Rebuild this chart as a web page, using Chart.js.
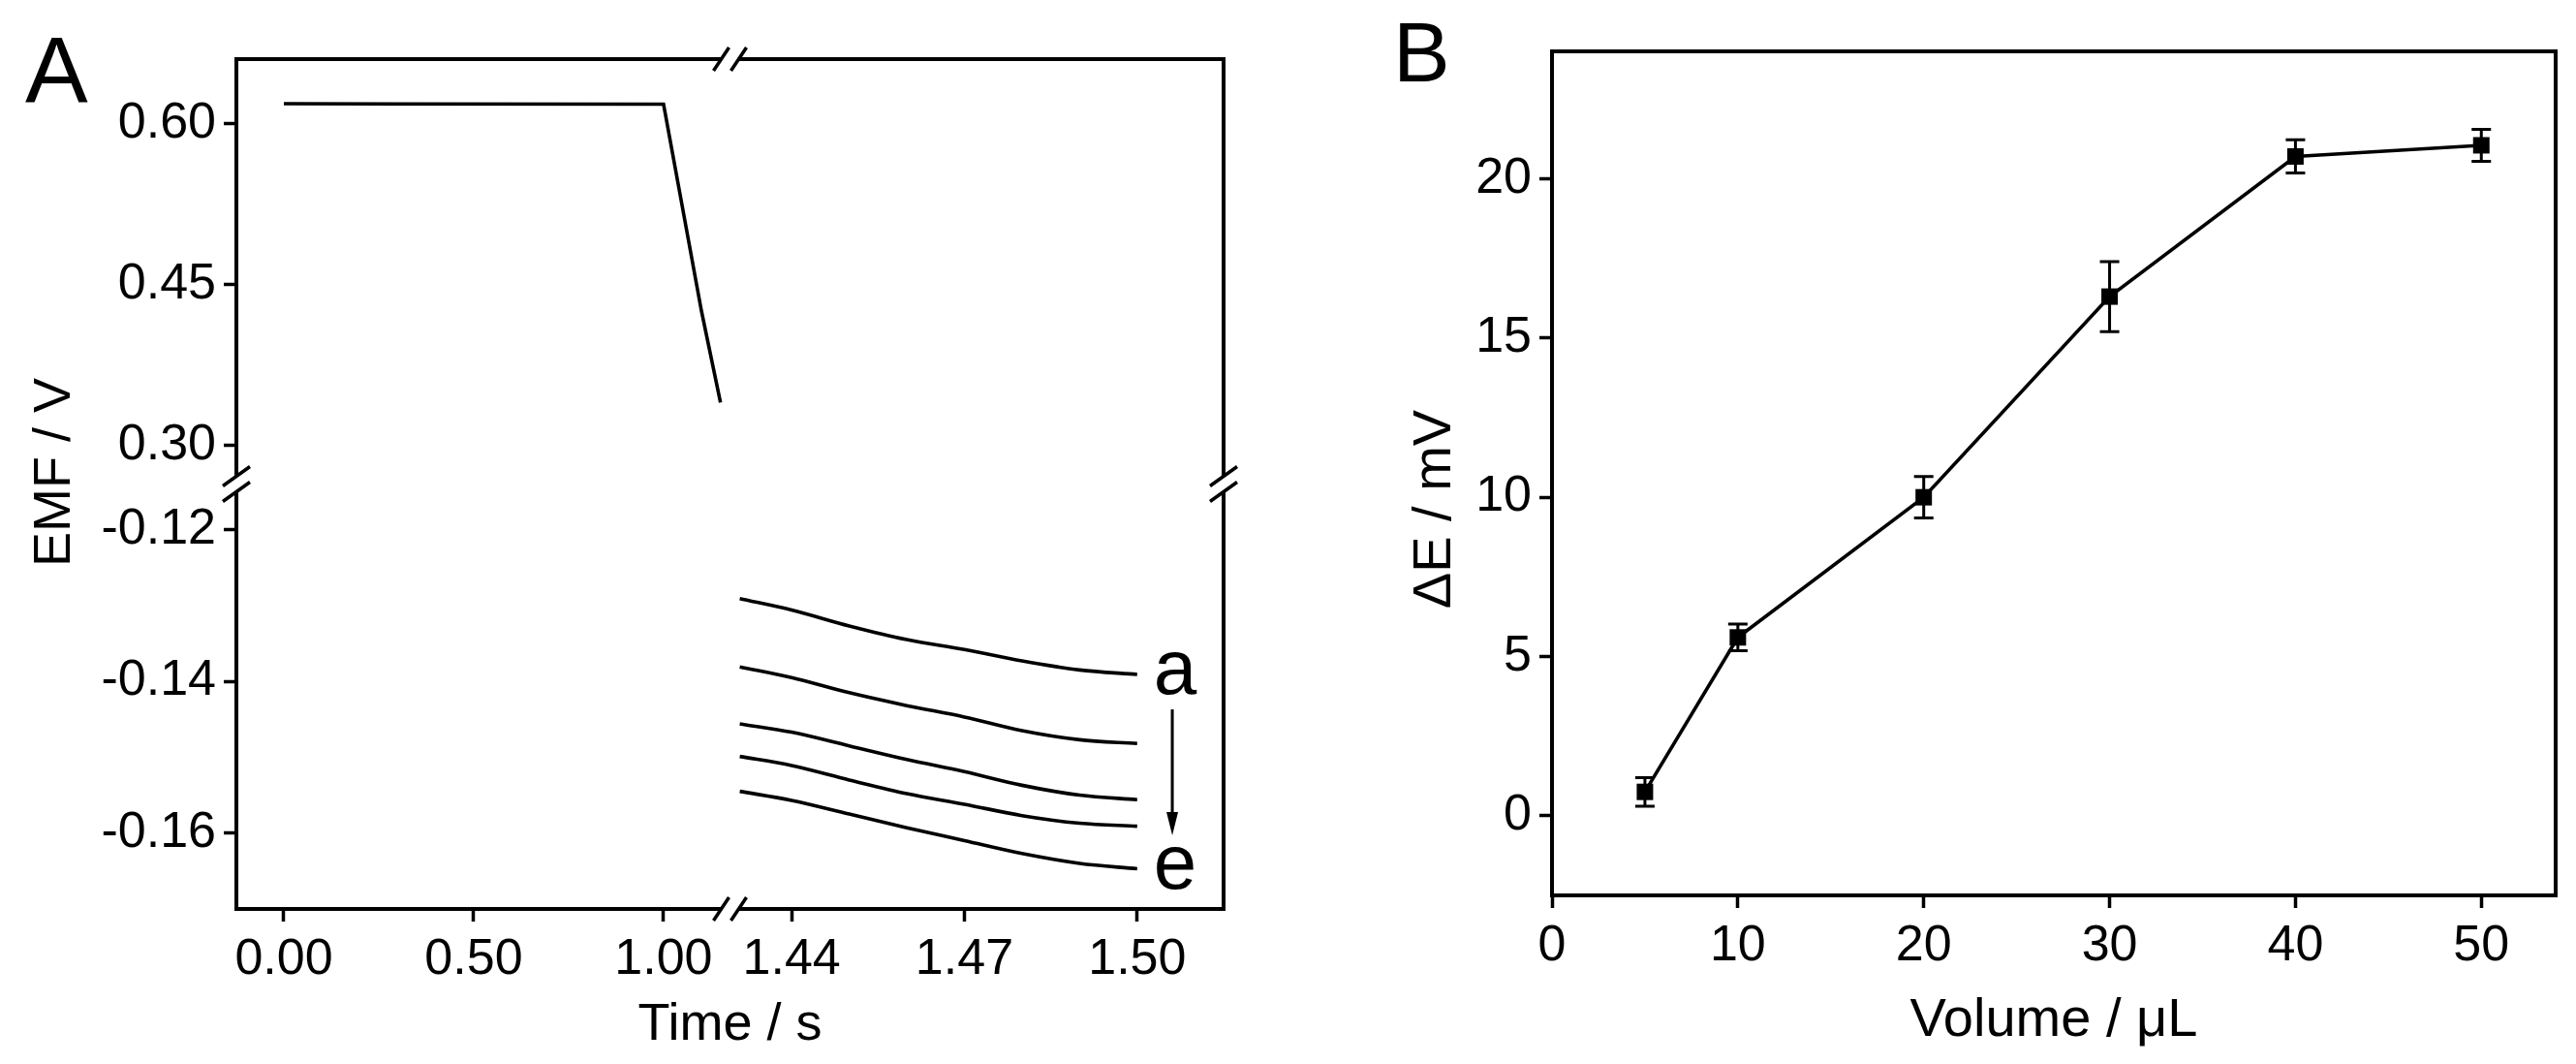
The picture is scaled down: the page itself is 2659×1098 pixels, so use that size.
<!DOCTYPE html>
<html>
<head>
<meta charset="utf-8">
<title>EMF / calibration</title>
<script src="https://cdn.jsdelivr.net/npm/chart.js@4.4.1/dist/chart.umd.min.js"></script>
<style>
    html, body { margin: 0; padding: 0; background: #fff; }
    #wrap { position: relative; width: 2659px; height: 1098px; overflow: hidden; }
    .panel { position: absolute; top: 0; height: 1098px; }
    #panel-a { left: 0; width: 1330px; }
    #panel-b { left: 1330px; width: 1329px; }
</style>
</head>
<body>
<div id="wrap">
    <div class="panel" id="panel-a"><canvas id="chart-a"></canvas></div>
    <div class="panel" id="panel-b"><canvas id="chart-b"></canvas></div>
</div>
<script>
// --- panel A, before the time break (s, V)
var dropTime = [0.00, 0.30, 1.00, 1.10, 1.15];
var dropEmf = [0.6185, 0.6183, 0.6180, 0.4250, 0.3400];

// --- panel A, after the time break: curves a..e
var tailTime = [1.431, 1.44, 1.45, 1.46, 1.47, 1.48, 1.49, 1.50];
var emfA = [-0.1291, -0.1306, -0.1327, -0.1345, -0.1358, -0.1373, -0.1385, -0.1391];
var emfB = [-0.1381, -0.1395, -0.1415, -0.1432, -0.1447, -0.1465, -0.1477, -0.1482];
var emfC = [-0.1456, -0.1467, -0.1485, -0.1503, -0.1519, -0.1537, -0.1550, -0.1556];
var emfD = [-0.1499, -0.1511, -0.1530, -0.1548, -0.1562, -0.1577, -0.1587, -0.1591];
var emfE = [-0.1545, -0.1557, -0.1575, -0.1593, -0.1610, -0.1627, -0.1640, -0.1647];

var timeTicksLeft = [0.00, 0.50, 1.00];
var timeTicksRight = [1.44, 1.47, 1.50];
var emfTicksUpper = [0.30, 0.45, 0.60];
var emfTicksLower = [-0.16, -0.14, -0.12];

// --- panel B
var volumes = [5, 10, 20, 30, 40, 50];
var deltaE = [0.75, 5.6, 10.0, 16.3, 20.7, 21.05];
var deltaEErr = [0.45, 0.42, 0.65, 1.1, 0.52, 0.5];

var volumeTicks = [0, 10, 20, 30, 40, 50];
var deltaETicks = [0, 5, 10, 15, 20];

var FONT = '"Liberation Sans", Arial, Helvetica, sans-serif';

var points = function (xs, ys) {
    return xs.map(function (x, i) { return { x: x, y: ys[i] }; });
};

var axis = function (min, max, tickValues, digits, fit, extra) {
    var cfg = {
        type: 'linear',
        min: min,
        max: max,
        grid: { drawOnChartArea: false, drawTicks: true, tickLength: 13, tickWidth: 3.5, tickColor: '#000', color: '#000' },
        border: { display: false },
        ticks: {
            color: '#000',
            font: { family: FONT, size: 52 },
            padding: 8,
            autoSkip: false,
            maxRotation: 0,
            callback: function (v) { return digits ? Number(v).toFixed(digits) : String(v); }
        },
        afterBuildTicks: function (scale) {
            scale.ticks = tickValues.map(function (v) { return { value: v }; });
        },
        afterFit: function (scale) {
            if (scale.isHorizontal()) {
                scale.height = fit;
            } else {
                scale.width = fit;
            }
        }
    };
    return Object.assign(cfg, extra || {});
};

var line = function (data, xId, yId, extra) {
    return Object.assign({
        data: data,
        xAxisID: xId,
        yAxisID: yId,
        borderColor: '#000',
        borderWidth: 3.6,
        pointRadius: 0,
        fill: false,
        tension: 0
    }, extra || {});
};

var drawText = function (ctx, text, x, y, size, align, rotate) {
    ctx.save();
    ctx.fillStyle = '#000';
    ctx.font = size + 'px ' + FONT;
    ctx.textAlign = align || 'center';
    ctx.textBaseline = 'alphabetic';
    ctx.translate(x, y);
    if (rotate) {
        ctx.rotate(-Math.PI / 2);
    }
    ctx.fillText(text, 0, 0);
    ctx.restore();
};

// frame round the plot, with the // marks where an axis is broken
var framePlugin = {
    id: 'frame',
    afterDatasetsDraw: function (chart, args, opts) {
        var a = chart.chartArea;
        var ctx = chart.ctx;
        ctx.save();
        ctx.strokeStyle = '#000';
        ctx.lineWidth = 4;
        ctx.strokeRect(a.left, a.top, a.right - a.left, a.bottom - a.top);

        var slash = function (x1, y1, x2, y2) {
            ctx.beginPath();
            ctx.moveTo(x1, y1);
            ctx.lineTo(x2, y2);
            ctx.stroke();
        };

        ctx.lineWidth = 3.5;
        if (opts.breakX) {
            var bx = chart.scales[opts.breakX].right;
            [a.top, a.bottom].forEach(function (ay) {
                ctx.fillStyle = '#fff';
                ctx.fillRect(bx - 9, ay - 3, 18, 6);
                slash(bx - 17, ay + 12, bx - 1, ay - 12);
                slash(bx + 1, ay + 12, bx + 17, ay - 12);
            });
        }
        if (opts.breakY) {
            var by = chart.scales[opts.breakY].bottom;
            [a.left, a.right].forEach(function (ax) {
                ctx.fillStyle = '#fff';
                ctx.fillRect(ax - 3, by - 8, 6, 16);
                slash(ax - 14, by + 2, ax + 14, by - 18);
                slash(ax - 14, by + 18, ax + 14, by - 2);
            });
        }
        ctx.restore();
    }
};

// axis titles and panel letters
var textPlugin = {
    id: 'texts',
    afterDraw: function (chart, args, opts) {
        var a = chart.chartArea;
        var ctx = chart.ctx;
        var midX = (a.left + a.right) / 2;
        var midY = (a.top + a.bottom) / 2;
        drawText(ctx, opts.letter, opts.letterX, opts.letterY, opts.letterSize, 'left');
        drawText(ctx, opts.xTitle, midX, a.bottom + opts.xTitleDy, opts.titleSize, 'center');
        drawText(ctx, opts.yTitle, opts.yTitleX, midY + opts.yTitleDy, opts.titleSize, 'center', true);
    }
};

// a -> e marks next to the tail curves
var curveMarks = { x: 1.5066, aY: -0.1417, eY: -0.1673, arrowTop: -0.1437, arrowBottom: -0.1603 };

var marksPlugin = {
    id: 'marks',
    afterDatasetsDraw: function (chart) {
        var xs = chart.scales.x2;
        var ys = chart.scales.y2;
        var ctx = chart.ctx;
        var x = xs.getPixelForValue(curveMarks.x);
        drawText(ctx, 'a', x, ys.getPixelForValue(curveMarks.aY), 80, 'center');
        drawText(ctx, 'e', x, ys.getPixelForValue(curveMarks.eY), 80, 'center');

        var y0 = ys.getPixelForValue(curveMarks.arrowTop);
        var y1 = ys.getPixelForValue(curveMarks.arrowBottom);
        ctx.save();
        ctx.strokeStyle = '#000';
        ctx.fillStyle = '#000';
        ctx.lineWidth = 3;
        ctx.beginPath();
        ctx.moveTo(x - 3, y0);
        ctx.lineTo(x - 3, y1 - 18);
        ctx.stroke();
        ctx.beginPath();
        ctx.moveTo(x - 9, y1 - 24);
        ctx.lineTo(x + 3, y1 - 24);
        ctx.lineTo(x - 3, y1);
        ctx.closePath();
        ctx.fill();
        ctx.restore();
    }
};

// error bars for panel B
var errorBarPlugin = {
    id: 'errorBars',
    beforeDatasetsDraw: function (chart) {
        var xs = chart.scales.x;
        var ys = chart.scales.y;
        var ctx = chart.ctx;
        ctx.save();
        ctx.strokeStyle = '#000';
        ctx.lineWidth = 3;
        volumes.forEach(function (v, i) {
            var px = xs.getPixelForValue(v);
            var top = ys.getPixelForValue(deltaE[i] + deltaEErr[i]);
            var bottom = ys.getPixelForValue(deltaE[i] - deltaEErr[i]);
            ctx.beginPath();
            ctx.moveTo(px, top);
            ctx.lineTo(px, bottom);
            ctx.moveTo(px - 10, top);
            ctx.lineTo(px + 10, top);
            ctx.moveTo(px - 10, bottom);
            ctx.lineTo(px + 10, bottom);
            ctx.stroke();
        });
        ctx.restore();
    }
};

var chartA = function () {
    var ctx = document.getElementById('chart-a');
    var tails = [emfA, emfB, emfC, emfD, emfE].map(function (vals) {
        return line(points(tailTime, vals), 'x2', 'y2', { cubicInterpolationMode: 'monotone' });
    });

    return new Chart(ctx, {
        type: 'line',
        data: {
            datasets: [line(points(dropTime, dropEmf), 'x1', 'y1')].concat(tails)
        },
        options: {
            responsive: true,
            maintainAspectRatio: false,
            animation: false,
            layout: { padding: { left: 0, top: 61, right: 67, bottom: 0 } },
            scales: {
                x1: axis(-0.125, 1.175, timeTicksLeft, 2, 160, { position: 'bottom', stack: 'time', stackWeight: 1 }),
                x2: axis(1.4293, 1.515, timeTicksRight, 2, 160, { position: 'bottom', stack: 'time', stackWeight: 1 }),
                y1: axis(0.264, 0.66, emfTicksUpper, 2, 244, { position: 'left', stack: 'emf', stackWeight: 1, weight: 1 }),
                y2: axis(-0.17, -0.114, emfTicksLower, 2, 244, { position: 'left', stack: 'emf', stackWeight: 1, weight: 0 })
            },
            plugins: {
                legend: { display: false },
                tooltip: { enabled: false },
                frame: { breakX: 'x1', breakY: 'y1' },
                texts: {
                    letter: 'A', letterX: 26, letterY: 105, letterSize: 97,
                    xTitle: 'Time / s', xTitleDy: 135,
                    yTitle: 'EMF / V', yTitleX: 72, yTitleDy: -12,
                    titleSize: 54
                }
            }
        },
        plugins: [framePlugin, textPlugin, marksPlugin]
    });
};

var chartB = function () {
    var ctx = document.getElementById('chart-b');

    return new Chart(ctx, {
        type: 'line',
        data: {
            datasets: [line(points(volumes, deltaE), 'x', 'y', {
                pointStyle: 'rect',
                pointRadius: 12,
                pointBackgroundColor: '#000',
                pointBorderWidth: 0
            })]
        },
        options: {
            responsive: true,
            maintainAspectRatio: false,
            animation: false,
            layout: { padding: { left: 0, top: 53, right: 21, bottom: 0 } },
            scales: {
                x: axis(0, 54, volumeTicks, 0, 174, { position: 'bottom' }),
                y: axis(-2.5, 24, deltaETicks, 0, 272, { position: 'left' })
            },
            plugins: {
                legend: { display: false },
                tooltip: { enabled: false },
                frame: {},
                texts: {
                    letter: 'B', letterX: 108, letterY: 84, letterSize: 88,
                    xTitle: 'Volume / \u03bcL', xTitleDy: 145,
                    yTitle: '\u0394E / mV', yTitleX: 167, yTitleDy: 37,
                    titleSize: 56
                }
            }
        },
        plugins: [errorBarPlugin, framePlugin, textPlugin]
    });
};

chartA();
chartB();
</script>
</body>
</html>
